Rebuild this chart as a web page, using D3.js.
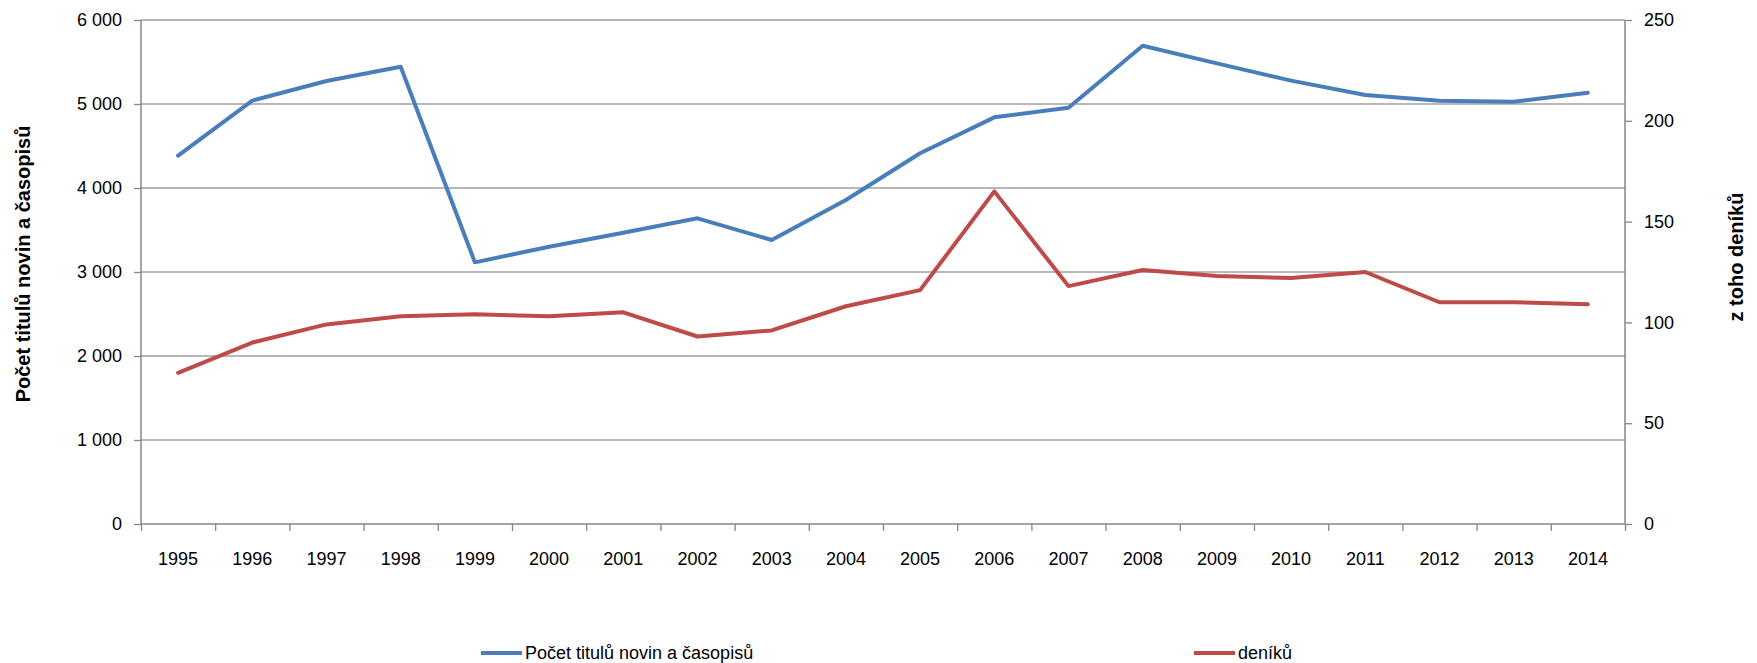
<!DOCTYPE html>
<html>
<head>
<meta charset="utf-8">
<script src="https://cdn.jsdelivr.net/npm/d3@7"></script>
<style>
  body { margin: 0; background: #fff; }
  text { font-family: "Liberation Sans", Arial, sans-serif; fill: #000; }
</style>
</head>
<body>
<div id="chart"></div>
<script>
var svgWidth = 1757;
var svgHeight = 663;

var margin = { top: 20, right: 132, bottom: 139, left: 141 };
var width = svgWidth - margin.left - margin.right;
var height = svgHeight - margin.top - margin.bottom;

// data
var years = ["1995", "1996", "1997", "1998", "1999", "2000", "2001", "2002", "2003", "2004",
  "2005", "2006", "2007", "2008", "2009", "2010", "2011", "2012", "2013", "2014"];
var titles = [4385, 5040, 5274, 5444, 3115, 3301, 3468, 3639, 3381, 3857,
  4413, 4841, 4956, 5694, 5484, 5278, 5107, 5040, 5028, 5135];
var dailies = [75, 90, 99, 103, 104, 103, 105, 93, 96, 108,
  116, 165, 118, 126, 123, 122, 125, 110, 110, 109];
var leftTicks = [0, 1000, 2000, 3000, 4000, 5000, 6000];
var rightTicks = [0, 50, 100, 150, 200, 250];

var svg = d3.select("#chart")
  .append("svg")
  .attr("width", svgWidth)
  .attr("height", svgHeight);

var chartGroup = svg.append("g")
  .attr("transform", `translate(${margin.left}, ${margin.top})`);

var x = d3.scaleBand().domain(years).range([0, width]).padding(0);
var xIdx = d3.scaleLinear().domain([0, years.length]).range([0, width]);
var yLeft = d3.scaleLinear().domain([0, 6000]).range([height, 0]);
var yRight = d3.scaleLinear().domain([0, 250]).range([height, 0]);

var fmt = function(d) { return d3.format(",")(d).replace(/,/g, " "); };

// gridlines
chartGroup.append("g")
  .selectAll("line")
  .data(leftTicks.slice(1))
  .enter()
  .append("line")
  .attr("x1", 0)
  .attr("x2", width)
  .attr("y1", d => yLeft(d))
  .attr("y2", d => yLeft(d))
  .attr("stroke", "#a0a0a0")
  .attr("stroke-width", 1.3);

// left axis
var leftAxis = chartGroup.append("g")
  .call(d3.axisLeft(yLeft).tickValues(leftTicks).tickFormat(fmt).tickSize(7).tickPadding(12));

// right axis
var rightAxis = chartGroup.append("g")
  .attr("transform", `translate(${width}, 0)`)
  .call(d3.axisRight(yRight).tickValues(rightTicks).tickSize(7).tickPadding(12));

// x axis: boundary ticks + centered labels
var xTicks = chartGroup.append("g")
  .attr("transform", `translate(0, ${height})`)
  .call(d3.axisBottom(xIdx).tickValues(d3.range(years.length + 1)).tickFormat("").tickSize(7));

var xLabels = chartGroup.append("g")
  .attr("transform", `translate(0, ${height})`)
  .call(d3.axisBottom(x).tickSize(0).tickPadding(28));

[leftAxis, rightAxis, xTicks, xLabels].forEach(function(a) {
  a.selectAll("path").attr("stroke", "#868686").attr("stroke-width", 1.5);
  a.selectAll("line").attr("stroke", "#868686").attr("stroke-width", 1.3);
  a.selectAll("text").attr("font-size", "18px").attr("font-family", "Liberation Sans, Arial, sans-serif");
});
xLabels.select("path").remove();
rightAxis.select("path").attr("d", `M0,0V${height}`);
leftAxis.select("path").attr("d", `M0,0V${height}`);
xTicks.select("path").attr("d", `M0,0H${width}`);

var cx = d => x(d) + x.bandwidth() / 2;

var lineLeft = d3.line()
  .x((d, i) => cx(years[i]))
  .y(d => yLeft(d));
var lineRight = d3.line()
  .x((d, i) => cx(years[i]))
  .y(d => yRight(d));

chartGroup.append("path")
  .datum(dailies)
  .attr("d", lineRight)
  .attr("fill", "none")
  .attr("stroke", "#be4b48")
  .attr("stroke-width", 4)
  .attr("stroke-linejoin", "round")
  .attr("stroke-linecap", "round");

chartGroup.append("path")
  .datum(titles)
  .attr("d", lineLeft)
  .attr("fill", "none")
  .attr("stroke", "#4a7ebb")
  .attr("stroke-width", 4)
  .attr("stroke-linejoin", "round")
  .attr("stroke-linecap", "round");

// axis titles
svg.append("text")
  .attr("transform", `translate(30, ${margin.top + height / 2 - 8}) rotate(-90)`)
  .attr("text-anchor", "middle")
  .attr("font-size", "20px")
  .attr("font-weight", "bold")
  .text("Počet titulů novin a časopisů");

svg.append("text")
  .attr("transform", `translate(1743, ${margin.top + height / 2 - 15}) rotate(-90)`)
  .attr("text-anchor", "middle")
  .attr("font-size", "20px")
  .attr("font-weight", "bold")
  .text("z toho deníků");

// legend
var legendItems = [
  { label: "Počet titulů novin a časopisů", color: "#4a7ebb", x: 481 },
  { label: "deníků", color: "#be4b48", x: 1194 }
];
var legend = svg.append("g").attr("transform", "translate(0, 653)");
legendItems.forEach(function(item) {
  legend.append("line")
    .attr("x1", item.x).attr("x2", item.x + 41)
    .attr("y1", 0).attr("y2", 0)
    .attr("stroke", item.color)
    .attr("stroke-width", 4);
  legend.append("text")
    .attr("x", item.x + 44)
    .attr("y", 0)
    .attr("dy", "0.35em")
    .attr("font-size", "18px")
    .text(item.label);
});
</script>
</body>
</html>
